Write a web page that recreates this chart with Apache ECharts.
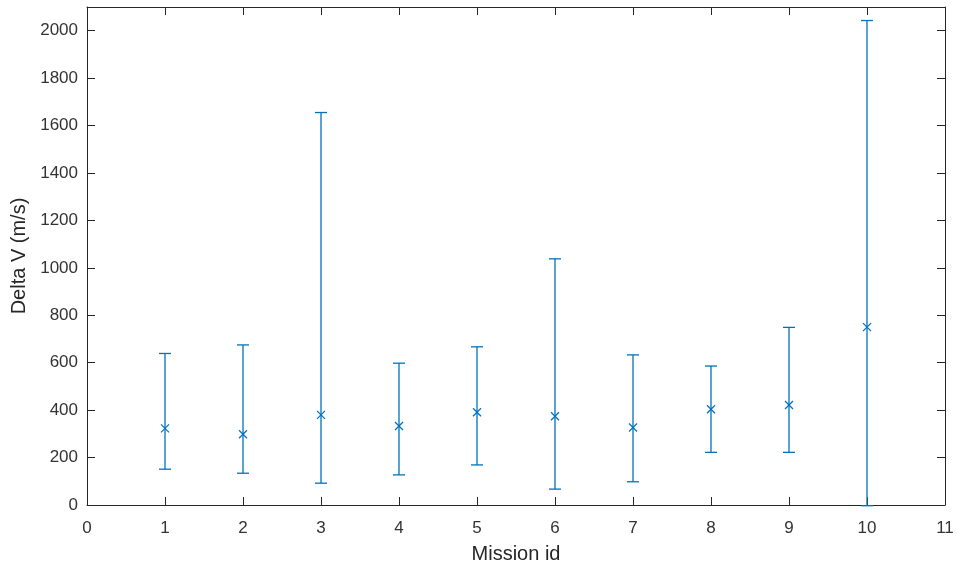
<!DOCTYPE html>
<html>
<head>
<meta charset="utf-8">
<script src="https://cdn.jsdelivr.net/npm/echarts@6/dist/echarts.min.js"></script>
<style>
html,body{margin:0;padding:0;background:#fff;}
#chart{width:957px;height:569px;}
</style>
</head>
<body>
<div id="chart"></div>
<script>
const missions = [1, 2, 3, 4, 5, 6, 7, 8, 9, 10];
const meanDV  = [323, 298, 380, 333, 391, 374, 327, 404, 422, 750];
const lowDV   = [151, 134, 92, 127, 169, 67, 98, 222, 222, -3];
const highDV  = [639, 675, 1655, 598, 667, 1038, 633, 586, 749, 2043];
const xTicks  = [0, 1, 2, 3, 4, 5, 6, 7, 8, 9, 10, 11];
const yTicks  = [0, 200, 400, 600, 800, 1000, 1200, 1400, 1600, 1800, 2000];

const blue = '#0072BD';
const axisCol = '#262626';
const font = 'Liberation Sans, Arial, Helvetica, sans-serif';

const data = missions.map((m, i) => [m, meanDV[i], lowDV[i], highDV[i]]);

const chart = echarts.init(document.getElementById('chart'));

function axisBase(extra) {
  return Object.assign({
    axisLine: { show: true, onZero: false, lineStyle: { color: axisCol, width: 1 } },
    axisTick: { show: true, inside: true, length: 8, lineStyle: { color: axisCol } },
    splitLine: { show: false },
    axisLabel: { show: false }
  }, extra);
}

const yTickFilter = v => (yTicks.indexOf(v) >= 0 ? String(v) : '');
const xTickFilter = v => (xTicks.indexOf(v) >= 0 ? String(v) : '');

chart.setOption({
  animation: false,
  backgroundColor: '#fff',
  grid: { left: 87, right: 12, top: 7, bottom: 60, containLabel: false },
  xAxis: [
    axisBase({
      type: 'value', min: 0, max: 11, interval: 1, position: 'bottom',
      name: 'Mission id', nameLocation: 'middle', nameGap: 39,
      nameTextStyle: { color: axisCol, fontSize: 20, fontFamily: font },
      axisLabel: { show: true, color: '#333333', fontSize: 17, fontFamily: font, margin: 15, formatter: xTickFilter }
    }),
    axisBase({ type: 'value', min: 0, max: 11, interval: 1, position: 'top' })
  ],
  yAxis: [
    axisBase({
      type: 'value', min: 0, max: 2100, interval: 200, position: 'left',
      name: 'Delta V (m/s)', nameLocation: 'middle', nameGap: 55,
      nameTextStyle: { color: axisCol, fontSize: 20, fontFamily: font },
      axisLabel: { show: true, color: '#333333', fontSize: 17, fontFamily: font, margin: 9, formatter: yTickFilter }
    }),
    axisBase({ type: 'value', min: 0, max: 2100, interval: 200, position: 'right' })
  ],
  series: [{
    type: 'custom',
    xAxisIndex: 0,
    yAxisIndex: 0,
    clip: false,
    data: data,
    renderItem: function (params, api) {
      const x = api.value(0);
      const pMean = api.coord([x, api.value(1)]);
      const pLow = api.coord([x, api.value(2)]);
      const pHigh = api.coord([x, api.value(3)]);
      const cap = 6, m = 4;
      const style = { stroke: blue, lineWidth: 1.3, fill: null };
      return {
        type: 'group',
        children: [
          { type: 'line', shape: { x1: pLow[0], y1: pLow[1], x2: pHigh[0], y2: pHigh[1] }, style: style },
          { type: 'line', shape: { x1: pLow[0] - cap, y1: pLow[1], x2: pLow[0] + cap, y2: pLow[1] }, style: style },
          { type: 'line', shape: { x1: pHigh[0] - cap, y1: pHigh[1], x2: pHigh[0] + cap, y2: pHigh[1] }, style: style },
          { type: 'line', shape: { x1: pMean[0] - m, y1: pMean[1] - m, x2: pMean[0] + m, y2: pMean[1] + m }, style: style },
          { type: 'line', shape: { x1: pMean[0] - m, y1: pMean[1] + m, x2: pMean[0] + m, y2: pMean[1] - m }, style: style }
        ]
      };
    }
  }]
});
</script>
</body>
</html>
